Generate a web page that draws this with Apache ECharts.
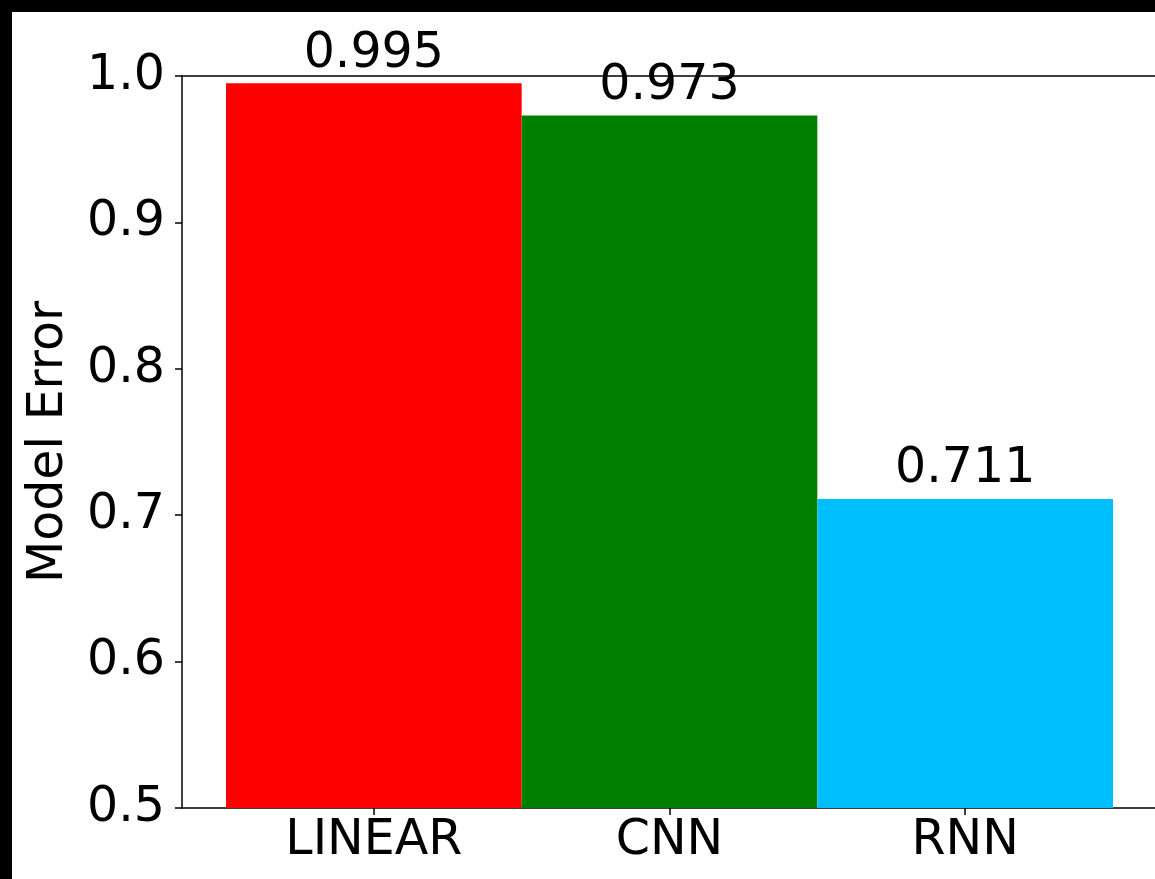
<!DOCTYPE html>
<html>
<head>
<meta charset="utf-8">
<script src="https://cdn.jsdelivr.net/npm/echarts@6/dist/echarts.min.js"></script>
<style>
  html, body { margin: 0; padding: 0; background: #000; }
  #chart { position: absolute; left: 12px; top: 12px; width: 1143px; height: 867px; background: #fff; }
</style>
</head>
<body>
<div id="chart"></div>
<script>
// Model error per architecture
const categories = ['LINEAR', 'CNN', 'RNN'];
const errors = [0.995, 0.973, 0.711];
const barColors = ['#ff0000', '#008000', '#00bfff'];
const yTicks = [0.5, 0.6, 0.7, 0.8, 0.9, 1.0];

const FONT = 'DejaVu Sans';
const FONT_SIZE = 49;
const Y_MIN = yTicks[0];
const Y_MAX = yTicks[yTicks.length - 1];
const SPINE = { show: true, lineStyle: { color: '#000', width: 1.5 } };

const chart = echarts.init(document.getElementById('chart'), null, { renderer: 'canvas' });

chart.setOption({
  backgroundColor: '#fff',
  animation: false,
  grid: [
    // axes frame: left, bottom and top spines (the right side runs past the canvas)
    { left: 170, right: -4, top: 64, bottom: 71 },
    // bars
    { left: 214, right: 42, top: 64, bottom: 71 }
  ],
  xAxis: [
    { gridIndex: 0, type: 'value', position: 'bottom', min: 0, max: 1,
      axisLine: SPINE, axisTick: { show: false }, axisLabel: { show: false }, splitLine: { show: false } },
    { gridIndex: 0, type: 'value', position: 'top', min: 0, max: 1,
      axisLine: SPINE, axisTick: { show: false }, axisLabel: { show: false }, splitLine: { show: false } },
    {
      gridIndex: 1, type: 'category', data: categories,
      axisLine: { show: false },
      axisTick: { show: true, alignWithLabel: true, length: 7, lineStyle: { color: '#000', width: 1.5 } },
      axisLabel: { fontFamily: FONT, fontSize: FONT_SIZE, color: '#000', margin: 9 }
    }
  ],
  yAxis: [
    {
      gridIndex: 0, type: 'value', min: Y_MIN, max: Y_MAX, interval: 0.1,
      name: 'Model Error', nameLocation: 'middle', nameGap: 108,
      nameTextStyle: { fontFamily: FONT, fontSize: FONT_SIZE, color: '#000' },
      axisLine: SPINE,
      axisTick: { show: true, length: 7, lineStyle: { color: '#000', width: 1.5 } },
      splitLine: { show: false },
      axisLabel: { fontFamily: FONT, fontSize: FONT_SIZE, color: '#000', margin: 17,
        formatter: v => v.toFixed(1) }
    },
    { gridIndex: 1, type: 'value', min: Y_MIN, max: Y_MAX, show: false, splitLine: { show: false } }
  ],
  series: [{
    type: 'bar',
    xAxisIndex: 2, yAxisIndex: 1,
    barWidth: '100%',
    data: errors.map((v, i) => ({ value: v, itemStyle: { color: barColors[i] } })),
    label: {
      show: true, position: 'top', distance: 5,
      fontFamily: FONT, fontSize: FONT_SIZE, color: '#000',
      formatter: p => p.value.toFixed(3)
    },
    z: 3
  }]
});
</script>
</body>
</html>
